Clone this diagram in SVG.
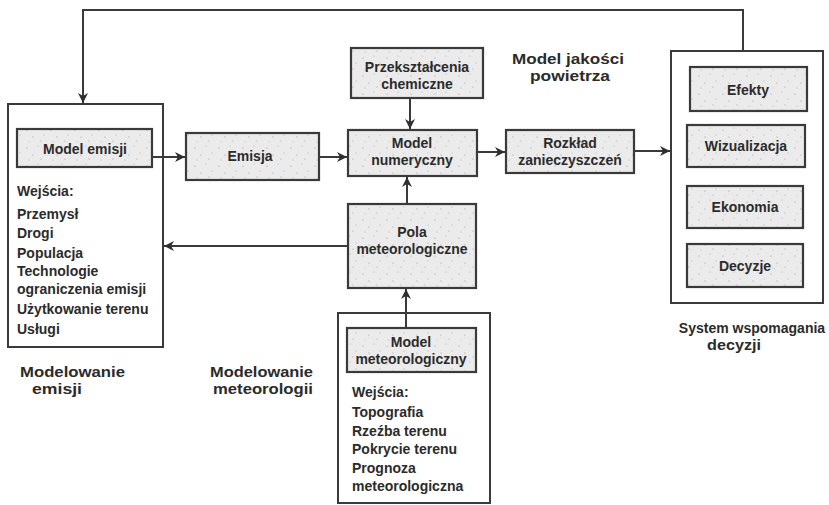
<svg xmlns="http://www.w3.org/2000/svg" width="829" height="505" viewBox="0 0 829 505">
<style>
  text { font-family: "Liberation Sans", Arial, sans-serif; font-weight: bold; font-size: 14px; fill: #2b2b2b; }
  .c { text-anchor: middle; }
  .lbl { font-size: 15px; }
  .outer { fill: #ffffff; stroke: #3a3a3a; stroke-width: 2; }
  .shade { fill: url(#speckle); stroke: #3a3a3a; stroke-width: 2.2; }
  .conn { fill: none; stroke: #3a3a3a; stroke-width: 2; }
</style>
<defs>
  <pattern id="speckle" width="24" height="18" patternUnits="userSpaceOnUse">
    <rect width="24" height="18" fill="#ebebeb"/>
    <circle cx="3" cy="4" r="0.6" fill="#9a9a9a"/>
    <circle cx="14" cy="2" r="0.5" fill="#a8a8a8"/>
    <circle cx="9" cy="11" r="0.6" fill="#9a9a9a"/>
    <circle cx="20" cy="9" r="0.5" fill="#aaaaaa"/>
    <circle cx="17" cy="15" r="0.6" fill="#9d9d9d"/>
    <circle cx="5" cy="16" r="0.5" fill="#b0b0b0"/>
  </pattern>
  <marker id="arr" viewBox="0 0 10 10" refX="10" refY="5" markerWidth="12" markerHeight="10" markerUnits="userSpaceOnUse" orient="auto">
    <path d="M0,0 L10,5 L0,10 L3,5 Z" fill="#2f2f2f"/>
  </marker>
</defs>

<g id="emission-modelling">
  <rect class="outer" x="8" y="104" width="155" height="243"/>
  <g id="model-emisji">
    <rect class="shade" x="17" y="129" width="135" height="38"/>
    <text class="c" x="85" y="154">Model emisji</text>
  </g>
  <text x="17" y="196">Wejścia:</text>
  <text x="17" y="219">Przemysł</text>
  <text x="17" y="238">Drogi</text>
  <text x="17" y="258">Populacja</text>
  <text x="17" y="276">Technologie</text>
  <text x="17" y="294">ograniczenia emisji</text>
  <text x="17" y="314">Użytkowanie terenu</text>
  <text x="17" y="334">Usługi</text>
</g>

<g id="emisja">
  <rect class="shade" x="186" y="133" width="133" height="47"/>
  <text class="c" x="250" y="161">Emisja</text>
</g>

<g id="przeksztalcenia">
  <rect class="shade" x="351" y="48" width="132" height="50"/>
  <text class="c" x="417" y="72">Przekształcenia</text>
  <text class="c" x="417" y="89">chemiczne</text>
</g>

<g id="model-numeryczny">
  <rect class="shade" x="348" y="130" width="129" height="46"/>
  <text class="c" x="412" y="148">Model</text>
  <text class="c" x="412" y="165">numeryczny</text>
</g>

<g id="pola-meteorologiczne">
  <rect class="shade" x="348" y="204" width="128" height="84"/>
  <text class="c" x="412" y="237">Pola</text>
  <text class="c" x="412" y="254">meteorologiczne</text>
</g>

<g id="rozklad">
  <rect class="shade" x="506" y="130" width="128" height="43"/>
  <text class="c" x="570" y="148">Rozkład</text>
  <text class="c" x="570" y="165">zanieczyszczeń</text>
</g>

<g id="model-jakosci-label">
  <text class="c lbl" x="568" y="64" textLength="112" lengthAdjust="spacingAndGlyphs">Model  jakości</text>
  <text class="c lbl" x="570" y="81" textLength="80" lengthAdjust="spacingAndGlyphs">powietrza</text>
</g>

<g id="system-wspomagania">
  <rect class="outer" x="671" y="51" width="152" height="252"/>
  <g id="efekty">
    <rect class="shade" x="690" y="67" width="117" height="44"/>
    <text class="c" x="748" y="95">Efekty</text>
  </g>
  <g id="wizualizacja">
    <rect class="shade" x="687" y="125" width="118" height="42"/>
    <text class="c" x="746" y="151">Wizualizacja</text>
  </g>
  <g id="ekonomia">
    <rect class="shade" x="687" y="186" width="116" height="42"/>
    <text class="c" x="745" y="212">Ekonomia</text>
  </g>
  <g id="decyzje">
    <rect class="shade" x="687" y="244" width="116" height="43"/>
    <text class="c" x="745" y="271">Decyzje</text>
  </g>
  <text class="c" x="752" y="333">System wspomagania</text>
  <text class="c lbl" x="734" y="350" textLength="54" lengthAdjust="spacingAndGlyphs">decyzji</text>
</g>

<g id="meteorology-modelling">
  <rect class="outer" x="338" y="313" width="152" height="190"/>
  <g id="model-meteorologiczny">
    <rect class="shade" x="347" y="328" width="129" height="44"/>
    <text class="c" x="411" y="347">Model</text>
    <text class="c" x="411" y="364">meteorologiczny</text>
  </g>
  <text x="352" y="397">Wejścia:</text>
  <text x="352" y="417">Topografia</text>
  <text x="352" y="436">Rzeźba terenu</text>
  <text x="352" y="454">Pokrycie terenu</text>
  <text x="352" y="473">Prognoza</text>
  <text x="352" y="491">meteorologiczna</text>
</g>

<g id="labels">
  <text class="lbl" x="20" y="377" textLength="105" lengthAdjust="spacingAndGlyphs">Modelowanie</text>
  <text class="lbl" x="32" y="394" textLength="50" lengthAdjust="spacingAndGlyphs">emisji</text>
  <text class="lbl" x="210" y="377" textLength="103" lengthAdjust="spacingAndGlyphs">Modelowanie</text>
  <text class="lbl" x="213" y="394" textLength="100" lengthAdjust="spacingAndGlyphs">meteorologii</text>
</g>

<g id="connectors">
  <path class="conn" d="M743,51 V10 H83 V103" marker-end="url(#arr)"/>
  <path class="conn" d="M152,157 H185" marker-end="url(#arr)"/>
  <path class="conn" d="M319,157 H347" marker-end="url(#arr)"/>
  <path class="conn" d="M410,98 V129" marker-end="url(#arr)"/>
  <path class="conn" d="M407,204 V177" marker-end="url(#arr)"/>
  <path class="conn" d="M477,152 H505" marker-end="url(#arr)"/>
  <path class="conn" d="M634,151 H670" marker-end="url(#arr)"/>
  <path class="conn" d="M348,246 H164" marker-end="url(#arr)"/>
  <path class="conn" d="M406,328 V289" marker-end="url(#arr)"/>
</g>
</svg>
